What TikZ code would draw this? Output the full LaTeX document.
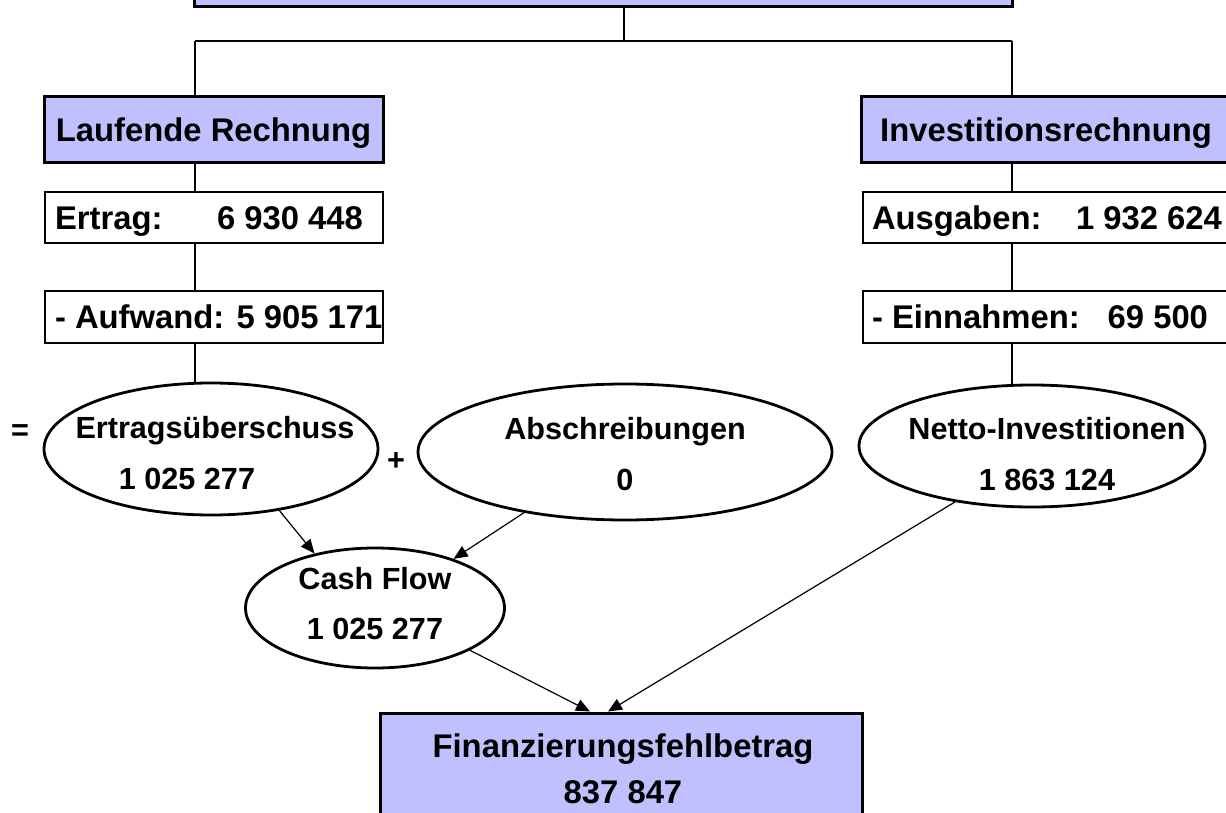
\documentclass[tikz,border=0pt]{standalone}
\usepackage{fontspec}
\setmainfont{Liberation Sans}
\usetikzlibrary{shapes.geometric,arrows.meta,calc}
\definecolor{lav}{RGB}{192,192,255}
\begin{document}
\begin{tikzpicture}[x=0.5pt,y=-0.5pt,
  headbox/.style={draw, line width=1.5pt, fill=lav, inner sep=0pt,
    font=\bfseries\fontsize{16.4}{24}\selectfont, text height=11.8pt, text depth=0pt},
  rowbox/.style={draw, line width=0.8pt, fill=white, inner ysep=0pt, inner xsep=5pt,
    font=\bfseries\fontsize{16.4}{24}\selectfont, text height=11.8pt, text depth=0pt},
  oval/.style={draw, ellipse, line width=1.4pt, inner sep=0pt},
  otext/.style={font=\bfseries\fontsize{15.3}{20}\selectfont, inner sep=0pt, anchor=base},
  ftext/.style={font=\bfseries\fontsize{16.4}{24}\selectfont, inner sep=0pt, anchor=base},
  tree/.style={line width=1pt},
  arr/.style={line width=0.6pt, -{Triangle[length=7pt,width=6pt]}}]
\useasboundingbox (0,0) rectangle (1226,813);
\clip (0,0) rectangle (1226,813);

% top box (cut off)
\node[headbox, minimum width=409pt, minimum height=30pt] (top) at (603.5,-23) {};
\coordinate (j) at (624,41);
\coordinate (cl) at (195,41);
\coordinate (cr) at (1012,41);
\draw[tree] (top.south -| j) -- (j);
\draw[tree] (cl) -- (cr);

% left column
\node[headbox, minimum width=169.5pt, minimum height=32.5pt] (lr) at (213.5,129.5) {Laufende Rechnung};
\node[rowbox, minimum height=25.5pt] (er) at (214,217.5) {\makebox[159pt][l]{Ertrag:\hfill 6 930 448\hspace*{5pt}}};
\node[rowbox, minimum height=26pt] (aw) at (214,317) {\makebox[159pt][l]{- Aufwand: 5 905 171\hfill}};

% right column
\node[headbox, minimum width=185pt, minimum height=32.5pt] (ir) at (1046,129.5) {Investitionsrechnung};
\node[rowbox, minimum height=25.5pt, inner xsep=4.5pt] (ag) at (1051,217.5) {\makebox[179pt][l]{Ausgaben:\hfill 1 932 624\hspace*{4pt}}};
\node[rowbox, minimum height=26pt, inner xsep=4.5pt] (ei) at (1051,317) {\makebox[179pt][l]{- Einnahmen:\hfill 69 500\hspace*{11pt}}};

% ellipses
\node[oval, minimum width=167pt, minimum height=66pt] (eu) at (211,449) {};
\node[oval, minimum width=207pt, minimum height=68pt] (ab) at (625,452) {};
\node[oval, minimum width=173pt, minimum height=61pt] (ni) at (1032,446) {};
\node[oval, minimum width=129.5pt, minimum height=60pt] (cf) at (375,608) {};

\node[otext] (eut) at (215,438) {Ertragsüberschuss};
\node[otext] (eun) at (187,489) {1 025 277};
\node[otext] (abt) at (625,439) {Abschreibungen};
\node[otext] (abn) at (625,490) {0};
\node[otext] (nit) at (1047,439) {Netto-Investitionen};
\node[otext] (nin) at (1047,490) {1 863 124};
\node[otext] (cft) at (375,589) {Cash Flow};
\node[otext] (cfn) at (375,639) {1 025 277};
\node[otext, anchor=center] (eq) at (20,433) {=};
\node[otext, anchor=center] (pl) at (396,462) {+};

% final box
\node[headbox, minimum width=241pt, minimum height=60pt] (fin) at (621,773) {};
\node[ftext] (fint) at (623,757) {Finanzierungsfehlbetrag};
\node[ftext] (finn) at (623,803) {837 847};

% tree connectors
\draw[tree] (cl) -- (cl |- lr.north);
\draw[tree] (lr.south -| cl) -- (er.north -| cl);
\draw[tree] (er.south -| cl) -- (aw.north -| cl);
\draw[tree] (aw.south -| cl) -- (eu.north -| cl);
\draw[tree] (cr) -- (cr |- ir.north);
\draw[tree] (ir.south -| cr) -- (ag.north -| cr);
\draw[tree] (ag.south -| cr) -- (ei.north -| cr);
\draw[tree] (ei.south -| cr) -- (ni.north -| cr);

% arrows
\draw[arr] (eu.-42.4) -- (cf.138.4);
\draw[arr] (ab.211.4) -- (cf.32.5);
\draw[arr] (cf.-24.8) -- ($(fin.north)+(-31,0)$);
\draw[arr] (ni.216.5) -- ($(fin.north)+(-13,0)$);
\end{tikzpicture}
\end{document}
